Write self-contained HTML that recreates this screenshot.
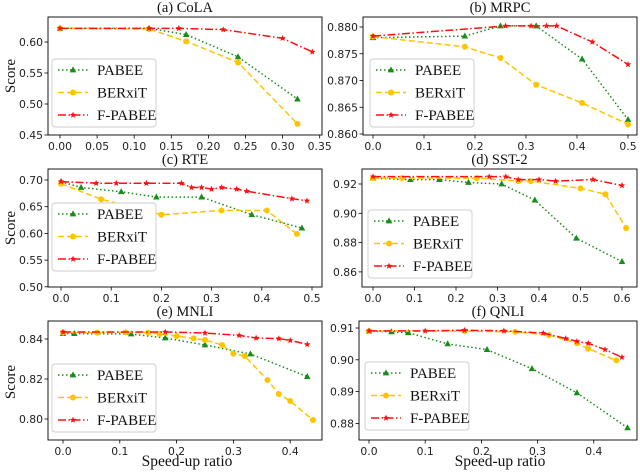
<!DOCTYPE html>
<html><head><meta charset="utf-8"><style>
html,body{margin:0;padding:0;background:#fff;}
svg{display:block;}
.tick{font-family:"DejaVu Sans","Liberation Sans",sans-serif;font-size:10.8px;fill:#222;}
.serif{font-family:"Liberation Serif",serif;fill:#111;}
</style></head><body>
<svg id="chart" width="640" height="472" viewBox="0 0 640 472" xmlns="http://www.w3.org/2000/svg"></svg>
<script>
// ---- data ----
const seriesNames = ["PABEE","BERxiT","F-PABEE"];
const colaPabeeX=[0,0.12,0.17,0.24,0.32], colaPabeeY=[0.622,0.622,0.612,0.576,0.508];
const colaBerxitX=[0,0.12,0.17,0.24,0.32], colaBerxitY=[0.622,0.621,0.601,0.567,0.468];
const colaFpabeeX=[0,0.12,0.16,0.22,0.30,0.34], colaFpabeeY=[0.622,0.622,0.622,0.620,0.606,0.584];
const mrpcPabeeX=[0,0.18,0.25,0.32,0.41,0.5], mrpcPabeeY=[0.878,0.8783,0.8802,0.8802,0.874,0.8627];
const mrpcBerxitX=[0,0.18,0.25,0.32,0.41,0.5], mrpcBerxitY=[0.8782,0.8763,0.8742,0.8692,0.8658,0.8618];
const mrpcFpabeeX=[0,0.26,0.31,0.34,0.36,0.43,0.5], mrpcFpabeeY=[0.8783,0.8802,0.8802,0.8802,0.8802,0.8772,0.873];
const rtePabeeX=[0,0.04,0.12,0.19,0.28,0.38,0.48], rtePabeeY=[0.697,0.686,0.678,0.668,0.668,0.635,0.610];
const rteBerxitX=[0,0.08,0.2,0.32,0.41,0.47], rteBerxitY=[0.693,0.664,0.635,0.643,0.643,0.599];
const rteFpabeeX=[0,0.07,0.11,0.17,0.24,0.26,0.28,0.3,0.32,0.35,0.37,0.46,0.49], rteFpabeeY=[0.697,0.694,0.694,0.694,0.694,0.686,0.686,0.683,0.686,0.683,0.679,0.665,0.661];
const sstPabeeX=[0,0.09,0.16,0.23,0.31,0.39,0.49,0.6], sstPabeeY=[0.924,0.923,0.923,0.921,0.920,0.909,0.883,0.867];
const sstBerxitX=[0,0.07,0.25,0.35,0.38,0.5,0.56,0.61], sstBerxitY=[0.924,0.924,0.924,0.922,0.922,0.917,0.913,0.890];
const sstFpabeeX=[0,0.28,0.32,0.35,0.4,0.44,0.53,0.6], sstFpabeeY=[0.925,0.925,0.925,0.923,0.923,0.922,0.923,0.919];
const mnliPabeeX=[0,0.02,0.12,0.18,0.25,0.33,0.43], mnliPabeeY=[0.8427,0.8427,0.8425,0.8405,0.837,0.8325,0.8212];
const mnliBerxitX=[0,0.06,0.11,0.15,0.17,0.2,0.23,0.25,0.28,0.3,0.32,0.36,0.38,0.4,0.44], mnliBerxitY=[0.8432,0.8432,0.8434,0.8432,0.8425,0.8415,0.8403,0.8395,0.837,0.8327,0.8315,0.8195,0.8125,0.809,0.7995];
const mnliFpabeeX=[0,0.18,0.25,0.31,0.34,0.38,0.4,0.43], mnliFpabeeY=[0.8435,0.8435,0.843,0.8418,0.8405,0.8402,0.8393,0.8373];
const qnliPabeeX=[0,0.04,0.07,0.14,0.21,0.29,0.37,0.46], qnliPabeeY=[0.909,0.9088,0.9085,0.905,0.9032,0.8972,0.8896,0.8786];
const qnliBerxitX=[0,0.17,0.26,0.32,0.37,0.39,0.44], qnliBerxitY=[0.909,0.909,0.9088,0.9078,0.9052,0.9035,0.8998];
const qnliFpabeeX=[0,0.1,0.17,0.24,0.31,0.35,0.37,0.39,0.42,0.45], qnliFpabeeY=[0.9091,0.9091,0.9093,0.9091,0.9084,0.9067,0.9058,0.9052,0.9032,0.9008];
const colaXTicks=["0.00","0.05","0.10","0.15","0.20","0.25","0.30","0.35"], colaYTicks=["0.45","0.50","0.55","0.60"];
const mrpcXTicks=["0.0","0.1","0.2","0.3","0.4","0.5"], mrpcYTicks=["0.860","0.865","0.870","0.875","0.880"];
const rteXTicks=["0.0","0.1","0.2","0.3","0.4","0.5"], rteYTicks=["0.50","0.55","0.60","0.65","0.70"];
const sstXTicks=["0.0","0.1","0.2","0.3","0.4","0.5","0.6"], sstYTicks=["0.86","0.88","0.90","0.92"];
const mnliXTicks=["0.0","0.1","0.2","0.3","0.4"], mnliYTicks=["0.80","0.82","0.84"];
const qnliXTicks=["0.0","0.1","0.2","0.3","0.4"], qnliYTicks=["0.88","0.89","0.90","0.91"];

const NS="http://www.w3.org/2000/svg";
const svg=document.getElementById('chart');
const SERIF='"Liberation Serif", serif';
function mk(tag,attrs,parent){const e=document.createElementNS(NS,tag);for(const k in attrs)e.setAttribute(k,attrs[k]);(parent||svg).appendChild(e);return e;}
const colors=["#1a8c1a","#ffc400","#ff1010"];
const dashes=["1.5,2.5","6,3","8,2.5,1.5,2.5"];
function marker(g,type,x,y,c){
  if(type===0){mk('polygon',{points:`${x},${y-3.6} ${x-3.3},${y+2.4} ${x+3.3},${y+2.4}`,fill:c},g);}
  else if(type===1){mk('circle',{cx:x,cy:y,r:3,fill:c},g);}
  else{let p=[];for(let i=0;i<10;i++){const r=i%2?1.5:3.4,a=-Math.PI/2+i*Math.PI/5;p.push((x+r*Math.cos(a)).toFixed(2)+','+(y+r*Math.sin(a)).toFixed(2));}mk('polygon',{points:p.join(' '),fill:c},g);}
}
function panel(o){
  const g=mk('g',{});
  
  
  const sx=v=>o.x0px+(v-o.x0)*o.xs, sy=v=>o.y0px-(v-o.y0)*o.ys;
  const t=mk('text',{x:(o.L+o.R)/2,y:o.T-5,'text-anchor':'middle',class:'serif','font-family':SERIF,'font-size':'14.5'},g);t.textContent=o.title;
  
  
  o.xt.forEach(s=>{const v=parseFloat(s),x=sx(v);
    mk('line',{x1:x,x2:x,y1:o.B,y2:o.B+3.5,stroke:'#000','stroke-width':0.8},g);
    const tx=mk('text',{x:x,y:o.B+15,'text-anchor':'middle',class:'tick'},g);tx.textContent=s;
    
    });
  o.yt.forEach(s=>{const v=parseFloat(s),y=sy(v);
    mk('line',{x1:o.L-3.5,x2:o.L,y1:y,y2:y,stroke:'#000','stroke-width':0.8},g);
    const ty=mk('text',{x:o.L-5,y:y+4,'text-anchor':'end',class:'tick'},g);ty.textContent=s;
    
    });
  const clip=mk('clipPath',{id:'c'+o.name},g);mk('rect',{x:o.L,y:o.T,width:o.R-o.L,height:o.B-o.T},clip);
  const sg=mk('g',{'clip-path':`url(#c${o.name})`},g);
  o.series.forEach((s,i)=>{
    const pts=s[0].map((xv,j)=>sx(xv).toFixed(2)+','+sy(s[1][j]).toFixed(2)).join(' ');
    const pl=mk('polyline',{points:pts,fill:'none',stroke:colors[i],'stroke-width':1.5,'stroke-dasharray':dashes[i]},sg);
    
    
    s[0].forEach((xv,j)=>marker(sg,i,sx(xv),sy(s[1][j]),colors[i]));
  });
  mk('rect',{x:o.L,y:o.T,width:o.R-o.L,height:o.B-o.T,fill:'none',stroke:'#000','stroke-width':0.9},g);
  const lg=mk('g',{},g);
  
  
  mk('rect',{x:o.lx,y:o.ly,width:104,height:68,rx:3,fill:'#fff',stroke:'#ccc','stroke-width':0.9},lg);
  seriesNames.forEach((n,i)=>{const y=o.ly+11+i*22.5;
    mk('line',{x1:o.lx+6,x2:o.lx+36,y1:y,y2:y,stroke:colors[i],'stroke-width':1.5,'stroke-dasharray':dashes[i]},lg);
    marker(lg,i,o.lx+21,y,colors[i]);
    const tt=mk('text',{x:o.lx+45,y:y+5,class:'serif','font-family':SERIF,'font-size':'15'},lg);tt.textContent=n;
    
    });
}
panel({name:'cola',title:'(a) CoLA',L:48,R:322,T:17,B:135,x0:0,x0px:60,xs:742,y0:0.60,y0px:42,ys:620,xt:colaXTicks,yt:colaYTicks,lx:52,ly:59,
  series:[[colaPabeeX,colaPabeeY],[colaBerxitX,colaBerxitY],[colaFpabeeX,colaFpabeeY]]});
panel({name:'mrpc',title:'(b) MRPC',L:363,R:637,T:17,B:135,x0:0,x0px:373,xs:510,y0:0.880,y0px:27,ys:5350,xt:mrpcXTicks,yt:mrpcYTicks,lx:370,ly:59,
  series:[[mrpcPabeeX,mrpcPabeeY],[mrpcBerxitX,mrpcBerxitY],[mrpcFpabeeX,mrpcFpabeeY]]});
panel({name:'rte',title:'(c) RTE',L:48,R:322,T:169,B:287,x0:0,x0px:61,xs:502,y0:0.70,y0px:180,ys:534,xt:rteXTicks,yt:rteYTicks,lx:52,ly:203,
  series:[[rtePabeeX,rtePabeeY],[rteBerxitX,rteBerxitY],[rteFpabeeX,rteFpabeeY]]});
panel({name:'sst2',title:'(d) SST-2',L:362,R:637,T:169,B:287,x0:0,x0px:373,xs:415,y0:0.92,y0px:184,ys:1465,xt:sstXTicks,yt:sstYTicks,lx:368,ly:210,
  series:[[sstPabeeX,sstPabeeY],[sstBerxitX,sstBerxitY],[sstFpabeeX,sstFpabeeY]]});
panel({name:'mnli',title:'(e) MNLI',L:48,R:322,T:321,B:440,x0:0,x0px:63,xs:568,y0:0.84,y0px:339,ys:2000,xt:mnliXTicks,yt:mnliYTicks,lx:52,ly:364,
  series:[[mnliPabeeX,mnliPabeeY],[mnliBerxitX,mnliBerxitY],[mnliFpabeeX,mnliFpabeeY]]});
panel({name:'qnli',title:'(f) QNLI',L:359,R:637,T:321,B:440,x0:0,x0px:369,xs:562,y0:0.91,y0px:328,ys:3180,xt:qnliXTicks,yt:qnliYTicks,lx:365,ly:362,
  series:[[qnliPabeeX,qnliPabeeY],[qnliBerxitX,qnliBerxitY],[qnliFpabeeX,qnliFpabeeY]]});
[76,228,382].forEach(y=>{const t=mk('text',{x:0,y:0,transform:`translate(15,${y}) rotate(-90)`,'text-anchor':'middle',class:'serif','font-family':SERIF,'font-size':'15'});t.textContent='Score';
  
  });
[187,500].forEach(x=>{const t=mk('text',{x:x,y:466,'text-anchor':'middle',class:'serif','font-family':SERIF,'font-size':'15.5'});t.textContent='Speed-up ratio';
  
  });
</script>
</body></html>
